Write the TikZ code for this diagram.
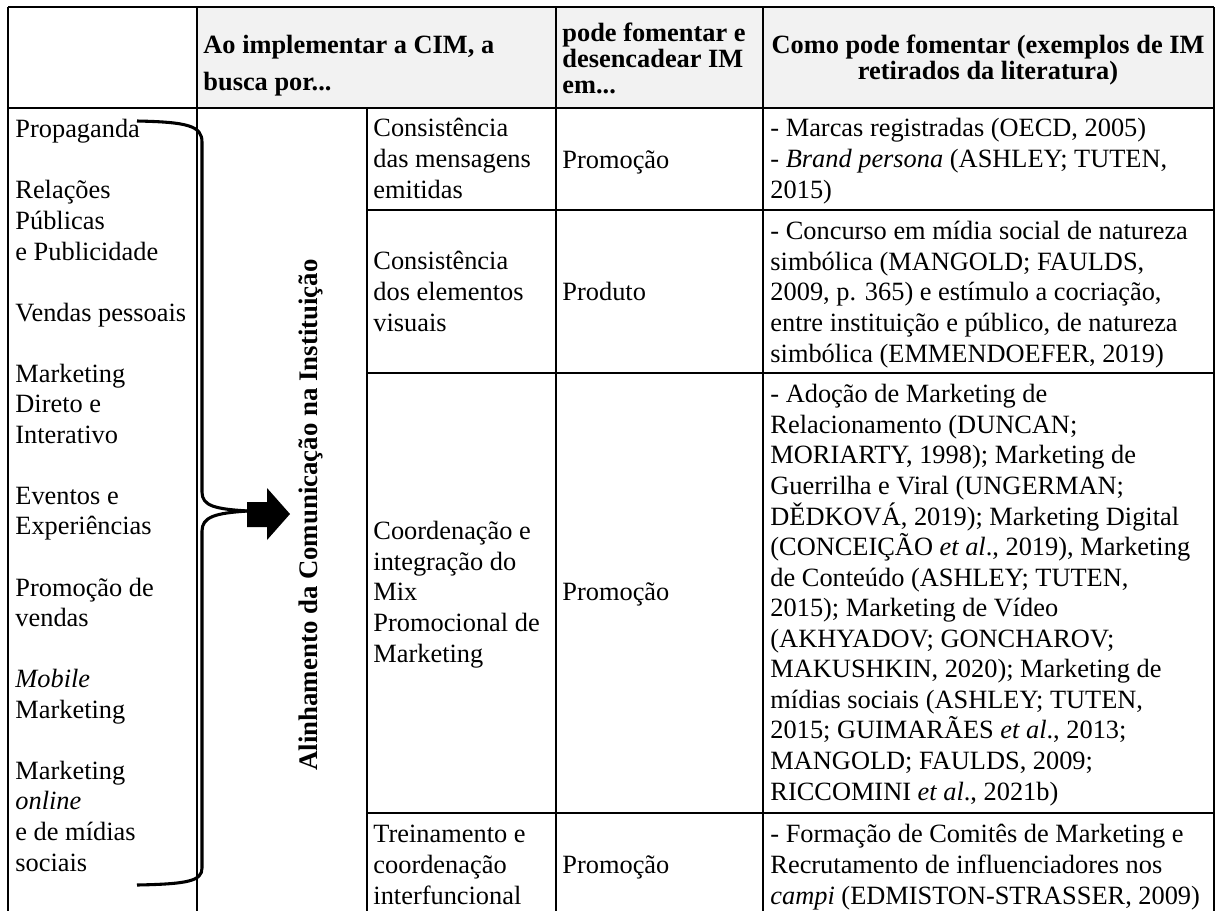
\documentclass[tikz,border=0pt]{standalone}
\usepackage{fontspec}
\setmainfont{Liberation Serif}
\usepackage{tikz}
\usetikzlibrary{positioning}
\tikzstyle{cell}=[anchor=base west,inner sep=0,align=left,font=\fontsize{12pt}{13.9pt}\selectfont]
\tikzstyle{head}=[anchor=base west,inner sep=0,align=left,font=\fontsize{12pt}{11.8pt}\selectfont\bfseries]
\tikzstyle{rule}=[line width=1pt]
\tikzstyle{brace}=[line width=1.4pt]

\begin{document}
\begin{tikzpicture}[x=0.455pt,y=-0.455pt]
    \useasboundingbox (0,0) rectangle (1218,911);

    \fill[black!5] (197,7) rectangle (1214,108);

    \draw[rule] (8,7) -- (1214,7);
    \draw[rule] (8,108) -- (1214,108);
    \draw[rule] (367,210) -- (1214,210);
    \draw[rule] (367,373) -- (1214,373);
    \draw[rule] (367,813) -- (1214,813);
    \draw[rule] (8,7) -- (8,911);
    \draw[rule] (197,7) -- (197,911);
    \draw[rule] (367,108) -- (367,911);
    \draw[rule] (556,7) -- (556,911);
    \draw[rule] (763,7) -- (763,911);
    \draw[rule] (1214,7) -- (1214,911);

    \node[head] (busca) at (203,90) {Ao implementar a CIM, a\\[5pt]busca por...};

    \node[head] (pode) at (562,93) {pode fomentar e\\desencadear IM\\em...};

    \node[head,anchor=base,align=center] (como) at (988,79) {Como pode fomentar (exemplos de IM\\retirados da literatura)};

    \node[cell] (ferramentas) at (15,871) {Propaganda\\[13.9pt]Relações\\Públicas\\e Publicidade\\[13.9pt]Vendas pessoais\\[13.9pt]Marketing\\Direto e\\Interativo\\[13.9pt]Eventos e\\Experiências\\[13.9pt]Promoção de\\vendas\\[13.9pt]\textit{Mobile}\\Marketing\\[13.9pt]Marketing\\\textit{online}\\e de mídias\\sociais};

    \node[cell] (busca_1) at (373,198) {Consistência\\das mensagens\\emitidas};
    \node[cell] (busca_2) at (373,331) {Consistência\\dos elementos\\visuais};
    \node[cell] (busca_3) at (373,662) {Coordenação e\\integração do\\Mix\\Promocional de\\Marketing};
    \node[cell] (busca_4) at (373,904) {Treinamento e\\coordenação\\interfuncional};

    \node[cell] (im_1) at (562,168) {Promoção};
    \node[cell] (im_2) at (562,300) {Produto};
    \node[cell] (im_3) at (562,600) {Promoção};
    \node[cell] (im_4) at (562,873) {Promoção};

    \node[cell] (ex_1) at (770,198) {- Marcas registradas (OECD, 2005)\\- \textit{Brand persona} (ASHLEY; TUTEN,\\2015)};
    \node[cell] (ex_2) at (770,362) {- Concurso em mídia social de natureza\\simbólica (MANGOLD; FAULDS,\\2009, p. 365) e estímulo a cocriação,\\entre instituição e público, de natureza\\simbólica (EMMENDOEFER, 2019)};
    \node[cell] (ex_3) at (770,800) {- Adoção de Marketing de\\Relacionamento (DUNCAN;\\MORIARTY, 1998); Marketing de\\Guerrilha e Viral (UNGERMAN;\\DĚDKOVÁ, 2019); Marketing Digital\\(CONCEIÇÃO \textit{et al}., 2019), Marketing\\de Conteúdo (ASHLEY; TUTEN,\\2015); Marketing de Vídeo\\(AKHYADOV; GONCHAROV;\\MAKUSHKIN, 2020); Marketing de\\mídias sociais (ASHLEY; TUTEN,\\2015; GUIMARÃES \textit{et al}., 2013;\\MANGOLD; FAULDS, 2009;\\RICCOMINI \textit{et al}., 2021b)};
    \node[cell] (ex_4) at (770,904) {- Formação de Comitês de Marketing e\\Recrutamento de influenciadores nos\\\textit{campi} (EDMISTON-STRASSER, 2009)};

    \node[rotate=90,inner sep=0,font=\fontsize{12.2pt}{14pt}\selectfont\bfseries] (alinhamento) at (311,515) {Alinhamento da Comunicação na Instituição};

    \draw[brace] (137,121) .. controls (188,122) and (202,126) .. (202,142) -- (202,492) .. controls (202,506) and (215,509) .. (248,511);
    \draw[brace] (248,511) .. controls (215,513) and (202,517) .. (202,531) -- (202,868) .. controls (202,881) and (188,884) .. (137,885);

    \fill (247,502) -- (267,502) -- (267,488) -- (290,514) -- (267,540) -- (267,527) -- (247,527) -- cycle;
\end{tikzpicture}
\end{document}
